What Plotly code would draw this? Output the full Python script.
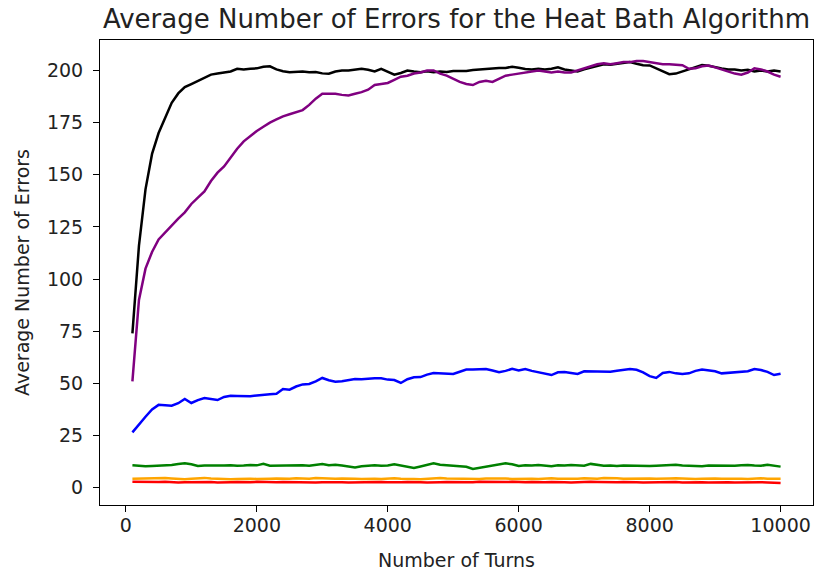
import plotly.graph_objects as go

turns = list(range(100, 10001, 100))

black = [74, 116, 143, 160, 170, 177, 184.5, 189, 192, 193.5,
         195, 196.5, 198, 198.5, 199, 199.5, 200.8, 200.5, 200.8, 201,
         201.8, 202, 200.5, 199.6, 199.2, 199.3, 199.5, 199.2, 199.3, 198.6,
         198.4, 199.5, 200, 200, 200.3, 200.8, 200.3, 199.5, 200.8, 199.5,
         198, 198.8, 200, 199.5, 199.2, 199.6, 199.2, 199.5, 199.3, 199.7,
         199.8, 199.7, 200.2, 200.5, 200.5, 201, 201.2, 201.2, 201.8, 201.3,
         200.7, 200.5, 200.8, 200.5, 200.8, 201.5, 200.5, 200, 199.5, 200.5,
         201.3, 202.2, 203, 202.8, 203.2, 203.5, 204, 203.2, 202.5, 202.4,
         201, 199.5, 198.2, 198.5, 199.5, 200.5, 201.7, 202.6, 202.3, 201.5,
         201, 200.5, 200.5, 200, 200.3, 199.5, 200, 199.5, 200, 199.5]

purple = [51, 90, 105, 113, 119, 122.5, 126, 129, 132, 136,
          139, 142, 147, 151, 154, 158.5, 162.5, 166, 168.5, 171,
          173, 175, 176.5, 178, 179, 180, 181, 183.5, 186.5, 188.8,
          188.8, 188.8, 188.3, 188, 188.8, 189.6, 190.8, 193, 193.5, 194,
          195.5, 197, 197.5, 198.5, 199, 200, 200, 198.5, 197.5, 196,
          194.5, 193.5, 193, 194.5, 195, 194.5, 196, 197.5, 198, 198.5,
          199, 199.5, 200, 199.5, 199, 199.5, 199, 199, 200, 201,
          202, 203, 203.5, 203, 203.5, 204, 204, 204.5, 204.5, 204,
          203.5, 203, 203, 202.8, 202.5, 200.8, 201, 202, 202.4, 201.5,
          200.5, 199.5, 198.5, 198, 199, 201, 200.5, 199.5, 198, 197]

blue = [26.5, 30.5, 34, 37.5, 39.7, 39.5, 39.3, 40.5, 42.5, 40.6,
        42, 43, 42.5, 42, 43.5, 44.1, 44, 43.8, 43.8, 44.2,
        44.6, 44.8, 45, 47.3, 47, 48.5, 49.5, 49.7, 51, 52.6,
        51.5, 50.8, 51, 51.4, 52.1, 52, 52.3, 52.4, 52.4, 51.8,
        51.6, 50.2, 52, 52.9, 53, 54.2, 55, 54.8, 54.6, 54.5,
        55.6, 56.6, 56.7, 56.8, 56.9, 56.2, 55.3, 56, 57, 56.2,
        56.9, 56, 55.3, 54.5, 54, 55.3, 55.4, 55, 54.5, 55.8,
        55.7, 55.5, 55.4, 55.6, 56, 56.3, 56.9, 56.5, 55.3, 53.5,
        52.6, 55, 55.5, 54.8, 54.5, 54.8, 56, 56.6, 56.2, 55.8,
        54.8, 55.1, 55.4, 55.6, 55.8, 56.9, 56.4, 55.5, 54, 54.6]

green = [10.8, 10.5, 10.3, 10.4, 10.6, 10.5, 10.9, 11.3, 11.7, 11.2,
         10.4, 10.6, 10.5, 10.7, 10.6, 10.8, 10.5, 10.6, 10.9, 10.7,
         11.4, 10.5, 10.6, 10.4, 10.7, 10.6, 10.8, 10.5, 10.9, 11.4,
         10.8, 11.0, 10.6, 10.2, 9.7, 10.3, 10.6, 10.8, 10.5, 10.6,
         11.2, 10.6, 10.3, 9.5, 10.2, 10.8, 11.7, 11.0, 10.6, 10.5,
         10.3, 10.0, 9.0, 9.5, 10.2, 10.6, 10.9, 11.7, 11.2, 10.4,
         10.8, 10.6, 10.9, 10.5, 10.3, 10.7, 10.6, 10.9, 10.6, 10.5,
         11.4, 10.8, 10.5, 10.6, 10.4, 10.6, 10.5, 10.7, 10.6, 10.4,
         10.5, 10.6, 10.8, 11.0, 10.6, 10.4, 10.5, 10.3, 10.6, 10.5,
         10.4, 10.6, 10.5, 10.7, 10.9, 10.6, 10.5, 11.0, 10.6, 10.1]

orange = [4.3, 4.4, 4.2, 4.3, 4.5, 4.6, 4.4, 4.2, 4.1, 4.3,
          4.5, 4.7, 4.4, 4.2, 4.3, 4.1, 4.2, 4.4, 4.3, 4.2,
          4.1, 4.3, 4.4, 4.2, 4.3, 4.5, 4.4, 4.3, 4.6, 4.4,
          4.2, 4.3, 4.4, 4.5, 4.3, 4.2, 4.4, 4.3, 4.2, 4.4,
          4.5, 4.3, 4.4, 4.2, 4.1, 4.3, 4.5, 4.6, 4.4, 4.3,
          4.2, 4.4, 4.3, 4.2, 4.4, 4.5, 4.3, 4.4, 4.2, 4.3,
          4.4, 4.3, 4.2, 4.4, 4.5, 4.3, 4.2, 4.4, 4.3, 4.5,
          4.4, 4.3, 4.6, 4.7, 4.5, 4.3, 4.4, 4.2, 4.3, 4.4,
          4.3, 4.2, 4.4, 4.5, 4.3, 4.4, 4.2, 4.3, 4.5, 4.4,
          4.3, 4.4, 4.5, 4.3, 4.2, 4.4, 4.5, 4.3, 4.4, 4.3]

red = [2.8, 2.7, 2.6, 2.5, 2.7, 2.8, 2.6, 2.5, 2.6, 2.7,
       2.6, 2.8, 2.7, 2.5, 2.4, 2.6, 2.7, 2.5, 2.6, 2.8,
       2.7, 2.5, 2.6, 2.7, 2.6, 2.8, 2.7, 2.6, 2.5, 2.6,
       2.7, 2.8, 2.6, 2.5, 2.6, 2.7, 2.6, 2.8, 2.7, 2.6,
       2.5, 2.6, 2.7, 2.8, 2.6, 2.5, 2.4, 2.6, 2.7, 2.6,
       2.7, 2.5, 2.6, 2.8, 2.7, 2.6, 2.5, 2.7, 2.8, 2.6,
       2.6, 2.7, 2.5, 2.6, 2.7, 2.8, 2.6, 2.5, 2.7, 2.6,
       2.8, 2.7, 2.6, 2.5, 2.6, 2.7, 2.8, 2.6, 2.5, 2.6,
       2.7, 2.6, 2.8, 2.7, 2.5, 2.6, 2.7, 2.6, 2.5, 2.6,
       2.7, 2.6, 2.5, 2.6, 2.7, 2.8, 2.6, 2.5, 2.4, 2.3]

series = [
    (black, "black"),
    (purple, "purple"),
    (blue, "blue"),
    (green, "green"),
    (orange, "orange"),
    (red, "red"),
]

x_ticks = [0, 2000, 4000, 6000, 8000, 10000]
y_ticks = [0, 25, 50, 75, 100, 125, 150, 175, 200]

FONT = "DejaVu Sans"

fig = go.Figure()
for vals, col in series:
    fig.add_trace(go.Scatter(x=turns, y=vals, mode="lines",
                             line=dict(color=col, width=2.5),
                             showlegend=False))

axis_common = dict(
    showline=True, linecolor="black", linewidth=1, mirror=True,
    ticks="outside", ticklen=6, tickwidth=1, tickcolor="black",
    showgrid=False, zeroline=False,
    tickfont=dict(family=FONT, size=19, color="#222"),
)

fig.update_layout(
    width=814, height=571,
    margin=dict(l=100, r=1, t=40, b=66),
    paper_bgcolor="white", plot_bgcolor="white",
    title=dict(text="Average Number of Errors for the Heat Bath Algorithm",
               font=dict(family=FONT, size=26, color="#222"),
               x=(100 + 813) / 2 / 814, xanchor="center",
               y=1 - 19 / 571, yanchor="middle", yref="container"),
    xaxis=dict(range=[-395, 10495], tickvals=x_ticks,
               ticktext=[str(v) for v in x_ticks],
               title=dict(text="Number of Turns",
                          font=dict(family=FONT, size=19, color="#222"),
                          standoff=19),
               ticklabelstandoff=-3,
               **axis_common),
    yaxis=dict(range=[-8.3, 214.6], tickvals=y_ticks,
               ticktext=[str(v) for v in y_ticks],
               title=dict(text="Average Number of Errors",
                          font=dict(family=FONT, size=19, color="#222"),
                          standoff=12),
               ticklabelstandoff=6,
               **axis_common),
)

fig.write_html("out.html")
